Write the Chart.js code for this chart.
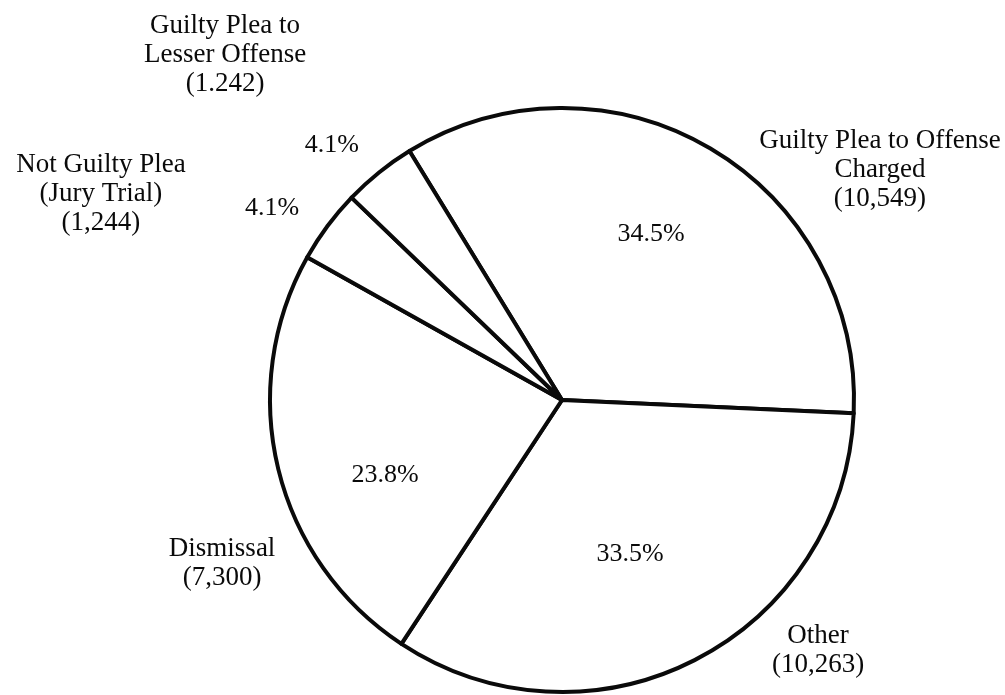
<!DOCTYPE html>
<html>
<head>
<meta charset="utf-8">
<script src="https://cdn.jsdelivr.net/npm/chart.js@4.4.1/dist/chart.umd.min.js"></script>
<style>
  html, body { margin: 0; padding: 0; background: #fff; }
  #chart { display: block; }
</style>
</head>
<body>
<canvas id="chart" width="1005" height="695"></canvas>
<script>
// Slices in clockwise order, starting at the upper boundary of "Guilty Plea to Offense Charged"
const categories = [
  ['Guilty Plea to Offense', 'Charged'],
  ['Other'],
  ['Dismissal'],
  ['Not Guilty Plea', '(Jury Trial)'],
  ['Guilty Plea to', 'Lesser Offense'],
];
const caseCounts = [10549, 10263, 7300, 1244, 1242];
// printed as in the source (including its "1.242")
const countLabels = ['(10,549)', '(10,263)', '(7,300)', '(1,244)', '(1.242)'];
const pctLabels = ['34.5%', '33.5%', '23.8%', '4.1%', '4.1%'];

// Label anchors, in units of the pie radius from its centre (x = text centre, y = first baseline)
const pctPlace = [[0.305, -0.545], [0.233, 0.551], [-0.606, 0.281], [-0.993, -0.634], [-0.788, -0.849]];
const namePlace = [[1.089, -0.863], [0.877, 0.832], [-1.164, 0.534], [-1.579, -0.781], [-1.154, -1.257]];

const SERIF = '"Liberation Serif", "Times New Roman", serif';

const pieLabels = {
  id: 'pieLabels',
  afterDatasetsDraw(chart) {
    const arc = chart.getDatasetMeta(0).data[0];
    if (!arc) return;
    const { x: cx, y: cy, outerRadius: r } = arc;
    const ctx = chart.ctx;
    ctx.save();
    ctx.fillStyle = '#0a0a0a';
    ctx.textAlign = 'center';
    ctx.textBaseline = 'alphabetic';

    ctx.font = '26px ' + SERIF;
    pctLabels.forEach((t, i) => {
      ctx.fillText(t, cx + pctPlace[i][0] * r, cy + pctPlace[i][1] * r);
    });

    ctx.font = '27px ' + SERIF;
    categories.forEach((lines, i) => {
      const x = cx + namePlace[i][0] * r;
      const y = cy + namePlace[i][1] * r;
      [...lines, countLabels[i]].forEach((t, k) => ctx.fillText(t, x, y + k * 29));
    });
    ctx.restore();
  },
};

new Chart(document.getElementById('chart'), {
  type: 'pie',
  data: {
    labels: categories.map((c) => c.join(' ')),
    datasets: [{
      data: caseCounts,
      backgroundColor: '#ffffff',
      borderColor: '#0a0a0a',
      borderWidth: 4,
      borderJoinStyle: 'round',
    }],
  },
  options: {
    responsive: false,
    animation: false,
    rotation: -31.5,
    radius: 292,
    layout: { padding: { left: 119, top: 105, right: 0, bottom: 0 } },
    plugins: { legend: { display: false }, tooltip: { enabled: false } },
  },
  plugins: [pieLabels],
});
</script>
</body>
</html>
